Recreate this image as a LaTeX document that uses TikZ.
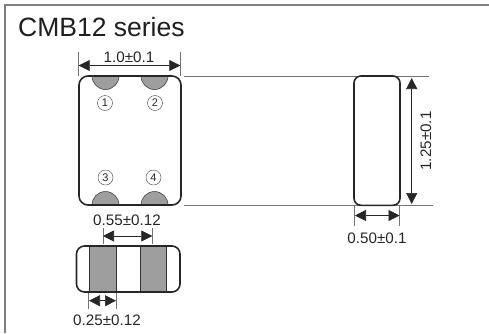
\documentclass[tikz,border=0pt]{standalone}
\usepackage{fontspec}
\setmainfont{Liberation Sans}
\usetikzlibrary{arrows.meta}
\tikzset{x=1pt,y=-1pt,
 body/.style={draw=black!85,line width=1.6pt,rounded corners=9pt},
 ext/.style={draw=black!55,line width=.6pt},
 dim/.style={draw=black!85,line width=.7pt,{Triangle[length=11pt,width=11pt]}-{Triangle[length=11pt,width=11pt]}},
 lab/.style={font=\fontsize{15.2pt}{16pt}\selectfont,text=black!85,inner sep=0pt},
 pad/.style={fill=black!38,draw=black!80,line width=.5pt},
 num/.style={draw=black!75,circle,line width=.4pt,inner sep=0pt,minimum size=15pt,font=\fontsize{11pt}{12pt}\selectfont,text=black!85}}
\begin{document}
\begin{tikzpicture}
\useasboundingbox (0,0) rectangle (489,333);
% frame
\draw[draw=black!50,line width=1.5pt] (5,333) -- (5,5) -- (489,5);
\node[anchor=west,inner sep=0pt,text=black!88,font=\fontsize{26.5pt}{28pt}\selectfont] (title) at (18,27.5) {CMB12 series};
% top view pads
\foreach \cx in {105.5,154.5}{
 \filldraw[pad] (\cx-13.5,76) arc[start angle=180,end angle=0,radius=13.5] -- cycle;
 \filldraw[pad] (\cx-13.5,205) arc[start angle=180,end angle=360,radius=13.5] -- cycle;
}
\draw[body] (79,76) rectangle (181,205);
\node[num] (n1) at (105,103) {1};
\node[num] (n2) at (155,103) {2};
\node[num] (n3) at (105.5,177.5) {3};
\node[num] (n4) at (153.5,177.5) {4};
% top width
\coordinate (a1) at (78.5,51.5); \coordinate (a2) at (78.5,76);
\coordinate (b1) at (180.5,51.5); \coordinate (b2) at (180.5,76);
\draw[ext] (a1) -- (a2); \draw[ext] (b1) -- (b2);
\draw[dim] (78.7,65.5) -- (180.3,65.5);
\node[lab] (l1) at (129,57) {1.0±0.1};
% horizontal extension
\coordinate (e1) at (184,76); \coordinate (e2) at (429,76);
\coordinate (e3) at (184,205.3); \coordinate (e4) at (433,205.3);
\draw[ext] (e1) -- (e2); \draw[ext] (e3) -- (e4);
% side view
\draw[body,rounded corners=7pt] (354,76) rectangle (400,205.3);
\draw[dim] (411.7,78) -- (411.7,204);
\node[lab,rotate=90] (l2) at (426,141) {1.25±0.1};
\coordinate (s1) at (354.7,205); \coordinate (s2) at (354.7,226);
\coordinate (s3) at (399.7,205); \coordinate (s4) at (399.7,226);
\draw[ext] (s1) -- (s2); \draw[ext] (s3) -- (s4);
\draw[dim] (355,215.5) -- (399.5,215.5);
\node[lab] (l3) at (377,238) {0.50±0.1};
% bottom view
\fill[black!38] (89.5,246) rectangle (116,292);
\fill[black!38] (140,246) rectangle (166,292);
\draw[draw=black!80,line width=.6pt] (89.5,246) -- (89.5,292) (116,246) -- (116,292) (140,246) -- (140,292) (166,246) -- (166,292);
\draw[body,rounded corners=8pt] (76.5,246) rectangle (180,292);
\coordinate (c1) at (103,228); \coordinate (c2) at (103,244);
\coordinate (d1) at (152.3,228); \coordinate (d2) at (152.3,244);
\draw[ext] (c1) -- (c2); \draw[ext] (d1) -- (d2);
\draw[dim] (103,236) -- (152.3,236);
\node[lab] (l4) at (127,220) {0.55±0.12};
\coordinate (f1) at (88.7,293); \coordinate (f2) at (88.7,309);
\coordinate (g1) at (116,293); \coordinate (g2) at (116,309);
\draw[ext] (f1) -- (f2); \draw[ext] (g1) -- (g2);
\draw[dim] (89,300.7) -- (116,300.7);
\node[lab] (l5) at (107,320.5) {0.25±0.12};
\end{tikzpicture}
\end{document}
